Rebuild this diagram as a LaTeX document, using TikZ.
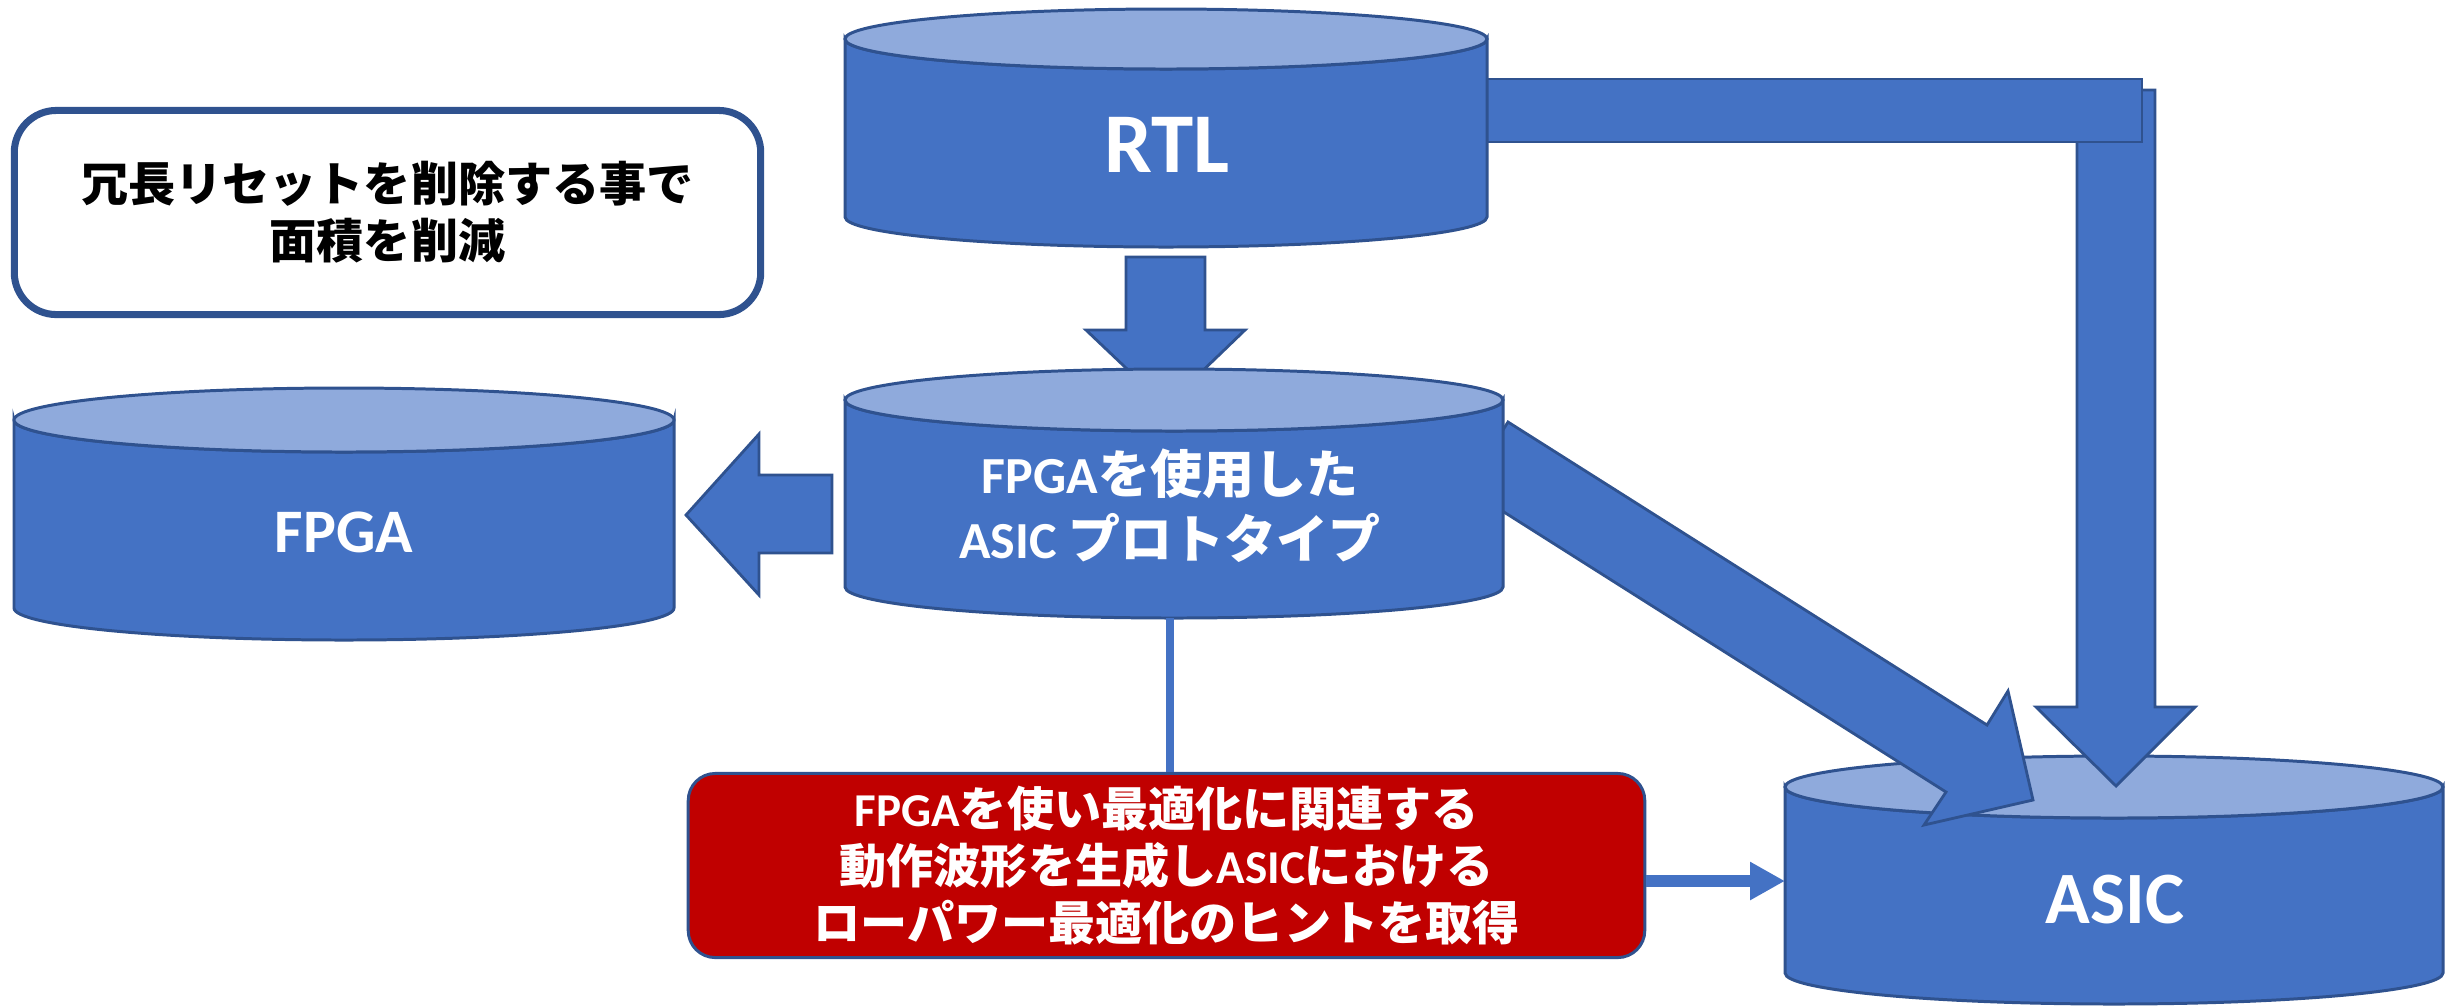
\documentclass[tikz,border=0pt]{standalone}
\usepackage{fontspec}
\usetikzlibrary{arrows.meta}
\newfontfamily\latf{Carlito}
\newfontfamily\jpf{Noto Sans CJK JP}
\definecolor{cylfill}{HTML}{4472C4}
\definecolor{cyltopfill}{HTML}{8FAADC}
\definecolor{cyledge}{HTML}{2F528F}
\definecolor{alertred}{HTML}{C00000}
\newcommand\jt[1]{{\jpf #1}}
\newcommand\lt[1]{{\latf #1}}
% database cylinder: centre x, top-ellipse centre y, bottom-ellipse centre y, x radius, y radius
\newcommand\drawcyl[5]{%
  \path[cylbody] (#1-#4,#2) -- (#1-#4,#3)
    arc[start angle=180, end angle=0, x radius=#4, y radius=#5]
    -- (#1+#4,#2)
    arc[start angle=0, end angle=180, x radius=#4, y radius=#5] -- cycle;
  \path[cyltop] (#1,#2) ellipse[x radius=#4, y radius=#5];
}
\begin{document}
\begin{tikzpicture}[x=0.01cm, y=-0.01cm,
  cylbody/.style={fill=cylfill, draw=cyledge, line width=0.85pt},
  cyltop/.style={fill=cyltopfill, draw=cyledge, line width=0.85pt},
  barrow/.style={fill=cylfill, draw=cyledge, line width=0.8pt, line join=miter},
  cyllabel/.style={text=white, inner sep=0pt, anchor=base},
  hintbox/.style={rounded corners=0.27cm, fill=alertred, draw=cyledge, line width=0.85pt,
    minimum width=9.56cm, minimum height=1.84cm, inner sep=0pt, text=white,
    font=\bfseries\fontsize{13.4}{16.2}\selectfont, align=center},
  notebox/.style={rounded corners=0.42cm, fill=white, draw=cyledge, line width=2pt,
    minimum width=7.46cm, minimum height=2.04cm, inner sep=0pt, text=black,
    font=\jpf\bfseries\fontsize{13.4}{16.2}\selectfont, align=center},
  thinlink/.style={line width=2pt, draw=cylfill},
  smallarrow/.style={line width=3.4pt, draw=cylfill, fill=cylfill,
    -{Triangle[length=0.35cm, width=0.36cm]}}
]
\useasboundingbox (0,0) rectangle (2445,1005);

% ASIC store
\drawcyl{2114}{787}{973}{329}{31}

% prototype -> ASIC
\path[barrow] (1508,422) -- (1987,725) -- (2008,691) -- (2033,800)
  -- (1924,825) -- (1946,792) -- (1466,488) -- cycle;

% RTL -> ASIC (bent path)
\path[barrow] (2077,90) -- (2155,90) -- (2155,707) -- (2195,707) -- (2116,786)
  -- (2036,707) -- (2077,707) -- cycle;
\path[barrow] (1470,79) rectangle (2142,142);

% RTL store
\drawcyl{1166}{39}{217}{321}{30}
\node[cyllabel, font=\latf\bfseries\fontsize{24.2}{29}\selectfont] (rtl) at (1167,172) {RTL};

% RTL -> prototype
\path[barrow] (1126,257) -- (1205,257) -- (1205,330) -- (1245,330) -- (1166,406)
  -- (1086,330) -- (1126,330) -- cycle;

% FPGA-based ASIC prototype
\drawcyl{1174}{400}{587}{329}{31}
\node[text=white, inner sep=0pt, align=center,
  font=\bfseries\fontsize{14.8}{18.5}\selectfont] (proto) at (1170,506)
  {\lt{FPGA}\jt{を使用した}\\\lt{ASIC }\jt{プロトタイプ}};
\coordinate (protobot) at (1170,618);

% prototype -> FPGA
\path[barrow] (832,475) -- (759,475) -- (759,434) -- (686,515) -- (759,595)
  -- (759,553) -- (832,553) -- cycle;

% FPGA store
\drawcyl{344}{420}{608}{330}{32}
\node[cyllabel, font=\latf\bfseries\fontsize{17.6}{21}\selectfont] (fpga) at (344,552) {FPGA};

\node[cyllabel, font=\latf\bfseries\fontsize{21}{25}\selectfont] (asic) at (2115,923) {ASIC};
\coordinate (asicw) at (1785,881);

% low-power hint box
\node[hintbox] (hint) at (1166.5,865.5)
  {\lt{FPGA}\jt{を使い最適化に関連する}\\
   \jt{動作波形を生成し}\lt{ASIC}\jt{における}\\
   \jt{ローパワー最適化のヒントを取得}};
\draw[thinlink] (protobot) -- (protobot |- hint.north);
\draw[smallarrow] (hint.east |- asicw) -- (asicw);

% area note
\node[notebox] (note) at (387.5,212.5)
  {冗長リセットを削除する事で\\面積を削減};
\end{tikzpicture}
\end{document}
